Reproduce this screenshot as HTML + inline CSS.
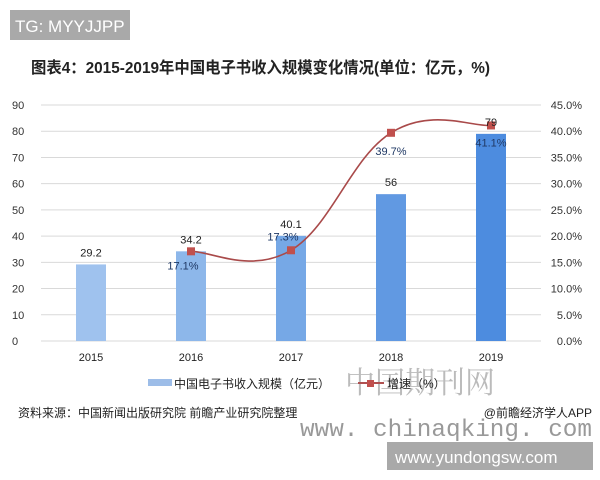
<!DOCTYPE html>
<html><head><meta charset="utf-8"><style>
body{margin:0;width:600px;height:480px;background:#fff;overflow:hidden;position:relative;font-family:"Liberation Sans","Noto Sans CJK SC",sans-serif}
svg{position:absolute;left:0;top:0}
</style></head><body>
<svg width="600" height="480">
<rect x="10" y="10" width="120" height="30" fill="#a9a9a9"/>
<text x="15" y="32" font-size="17" fill="#fff" font-family="Liberation Sans,sans-serif">TG: MYYJJPP</text>
<text x="31" y="73" font-size="16" font-weight="bold" fill="#222" textLength="459" lengthAdjust="spacingAndGlyphs">图表4：2015-2019年中国电子书收入规模变化情况(单位：亿元，%)</text>
<g id="grid"></g><g id="bars"></g><g id="line"></g><g id="labels"></g>
<text x="345" y="393" font-size="30" fill="#bbb" font-family="Noto Serif CJK SC,serif">中国期刊网</text>
<rect x="148" y="379" width="24" height="7" fill="#9dbde8"/>
<text x="174" y="388" font-size="12" fill="#222">中国电子书收入规模（亿元）</text>
<line x1="358" y1="383" x2="384" y2="383" stroke="#b05050" stroke-width="2"/>
<rect x="367" y="380" width="7" height="7" fill="#c0504d"/>
<text x="387" y="388" font-size="12" fill="#222">增速（%）</text>
<text x="18" y="417" font-size="12" fill="#222">资料来源：中国新闻出版研究院 前瞻产业研究院整理</text>
<text x="592" y="417" text-anchor="end" font-size="12" fill="#222">@前瞻经济学人APP</text>
<text x="300" y="436" font-size="24" fill="#999" font-family="Liberation Mono,monospace" textLength="292" lengthAdjust="spacingAndGlyphs">www. chinaqking. com</text>
<rect x="387" y="442" width="206" height="28" fill="#a9a9a9"/>
<text x="395" y="463" font-size="17" fill="#fff">www.yundongsw.com</text>
</svg>
<script>
const categories=["2015","2016","2017","2018","2019"];
const revenue=[29.2,34.2,40.1,56,79];
const growth=[null,17.1,17.3,39.7,41.1];
const leftTicks=[0,10,20,30,40,50,60,70,80,90];
const rightTicks=["0.0%","5.0%","10.0%","15.0%","20.0%","25.0%","30.0%","35.0%","40.0%","45.0%"];
const NS="http://www.w3.org/2000/svg";
const X0=41,X1=541,Y0=341,Y1=105;
const xC=i=>X0+(X1-X0)/categories.length*(i+0.5);
const yL=v=>Y0-(Y0-Y1)*v/90;
const yR=v=>Y0-(Y0-Y1)*v/45;
function mk(tag,attrs,parent,text){const e=document.createElementNS(NS,tag);for(const k in attrs)e.setAttribute(k,attrs[k]);if(text!=null)e.textContent=text;document.getElementById(parent).appendChild(e);return e;}
leftTicks.forEach((t,i)=>{
 const y=yL(t);
 const g=mk("line",{x1:X0,x2:X1,y1:y,y2:y,stroke:"#d9d9d9","stroke-width":1},"grid");
 
 
 const l=mk("text",{x:12,y:y+4,"font-size":11,fill:"#333"},"grid",t);
 
 
 const r=mk("text",{x:582,y:y+4,"font-size":11,fill:"#333","text-anchor":"end"},"grid",rightTicks[i]);
 
 
});
const cols=["#9fc2ee","#8db7ea","#76a8e6","#6199e2","#4d8cdf"];
categories.forEach((c,i)=>{
 const x=xC(i),y=yL(revenue[i]);
 const b=mk("rect",{x:x-15,y:y,width:30,height:Y0-y,fill:cols[i]},"bars");
 
 
 const v=mk("text",{x:x,y:y-8,"font-size":11,fill:"#222","text-anchor":"middle"},"labels",revenue[i]);
 
 
 const xl=mk("text",{x:x,y:361,"font-size":11,fill:"#222","text-anchor":"middle"},"labels",c);
 
 
});
const pts=[];growth.forEach((g,i)=>{if(g!=null)pts.push([xC(i),yR(g),g]);});
let d="M"+pts[0][0]+","+pts[0][1];
for(let i=0;i<pts.length-1;i++){
 const p0=pts[Math.max(0,i-1)],p1=pts[i],p2=pts[i+1],p3=pts[Math.min(pts.length-1,i+2)];
 const t=0.6/3;
 d+=` C${p1[0]+(p2[0]-p0[0])*t},${p1[1]+(p2[1]-p0[1])*t} ${p2[0]-(p3[0]-p1[0])*t},${p2[1]-(p3[1]-p1[1])*t} ${p2[0]},${p2[1]}`;
}
const ln=mk("path",{d:d,fill:"none",stroke:"#a94a4a","stroke-width":1.6},"line");


const off=[null,[-8,14],[-8,-14],[0,18],[0,17]];
growth.forEach((g,i)=>{
 if(g==null)return;
 const x=xC(i),y=yR(g);
 const m=mk("rect",{x:x-4,y:y-4,width:8,height:8,fill:"#c0504d"},"line");
 
 
 const t=mk("text",{x:x+off[i][0],y:y+off[i][1]+4,"font-size":11,fill:"#1f3864","text-anchor":"middle"},"labels",g.toFixed(1)+"%");
 
 
});
</script>
</body></html>
